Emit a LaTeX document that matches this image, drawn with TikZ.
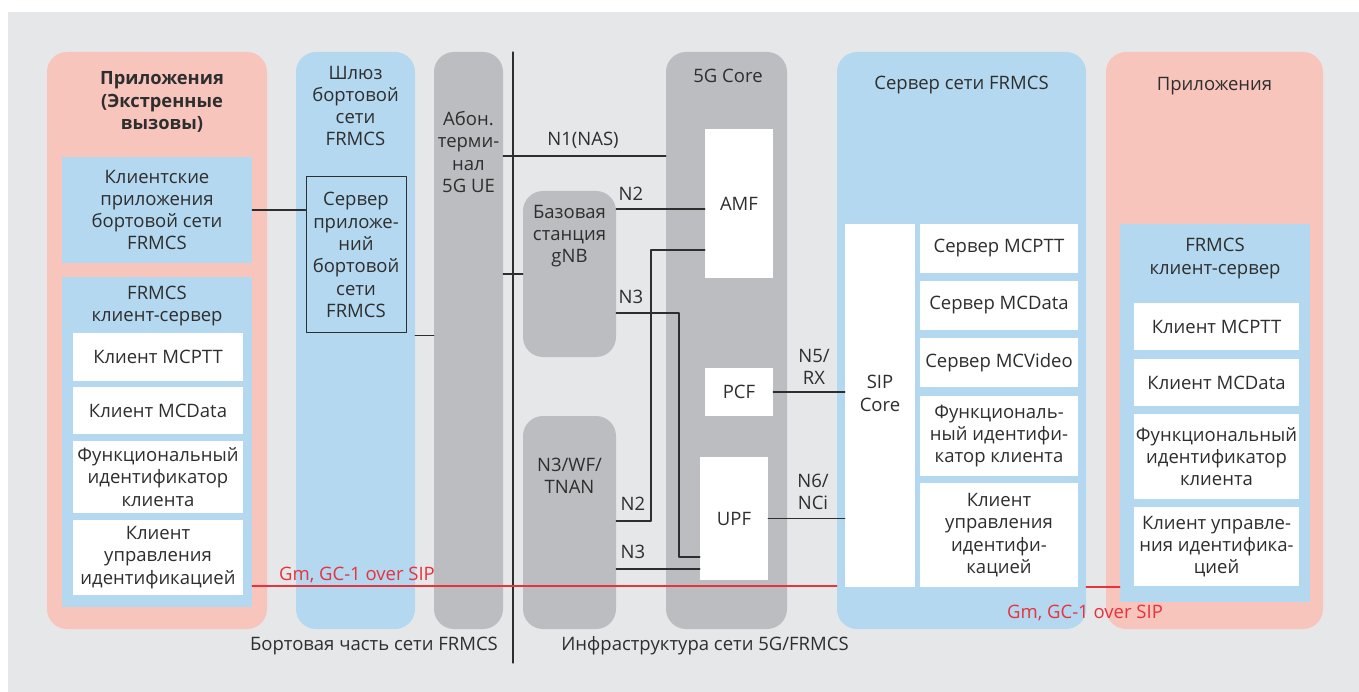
\documentclass[tikz,border=0pt]{standalone}
\usepackage{fontspec}
\setmainfont{Open Sans}
\definecolor{bg}{HTML}{E6E7E9}
\definecolor{rose}{HTML}{F8C5BD}
\definecolor{sky}{HTML}{B3D8F0}
\definecolor{steel}{HTML}{BCBDC0}
\definecolor{ink}{HTML}{2E2E2E}
\definecolor{sipred}{HTML}{E8323C}
\begin{document}
\begin{tikzpicture}[x=1pt, y=-1pt, line cap=round, line join=round,
	font=\fontsize{18.5}{22.3}\selectfont, text=ink,
	panel/.style={rounded corners=20pt, minimum height=577pt, inner sep=0pt},
	inbox/.style={fill=sky, inner sep=0pt, align=center},
	wbox/.style={fill=white, inner sep=0pt, align=center},
	lbl/.style={inner sep=0pt, align=center},
	link/.style={draw=ink, line width=1.2pt},
	sipline/.style={draw=sipred, line width=1.3pt},
	redlbl/.style={lbl, text=sipred}]
	\useasboundingbox (0,0) rectangle (1359,692);
	\fill[bg] (8,12) rectangle (1359,692);
	% big columns
	\node[panel, fill=rose, minimum width=220pt] (appL) at (157,340.5) {};
	\node[panel, fill=sky, minimum width=119pt] (gw) at (355.5,340.5) {};
	\node[panel, fill=steel, minimum width=69pt] (ue) at (468.5,340.5) {};
	\node[panel, fill=steel, minimum width=121pt] (core) at (726.5,340.5) {};
	\node[panel, fill=sky, minimum width=249pt] (srv) at (961.5,340.5) {};
	\node[panel, fill=rose, minimum width=217pt] (appR) at (1214.5,340.5) {};
	\node[panel, fill=steel, minimum width=93pt, minimum height=166pt] (gnb) at (569.5,274) {};
	\node[panel, fill=steel, minimum width=93pt, minimum height=213pt] (tnan) at (569.5,522.5) {};
	% column titles
	\node[lbl, font=\fontsize{18.3}{22.3}\bfseries] (appLt) at (162,102) {Приложения\\(Экстренные\\вызовы)};
	\node[lbl] (gwt) at (355.5,106) {Шлюз\\бортовой\\сети\\FRMCS};
	\node[lbl] (uet) at (468.5,152) {Абон.\\терми-\\нал\\5G UE};
	\node[lbl] (coret) at (728,76) {5G Core};
	\node[lbl] (srvt) at (961.5,85) {Сервер сети FRMCS};
	\node[lbl] (appRt) at (1214.5,86) {Приложения};
	\node[lbl] (gnbt) at (569.5,236) {Базовая\\станция\\gNB};
	\node[lbl] (tnant) at (569.5,476) {N3/WF/\\TNAN};
	% on-board side
	\node[inbox, minimum width=190pt, minimum height=106pt] (clapp) at (157,210)
		{Клиентские\\приложения\\бортовой сети\\FRMCS};
	\node[inbox, minimum width=190pt, minimum height=330pt] (csL) at (157,442) {};
	\node[lbl] (csLt) at (157,306) {FRMCS\\клиент-сервер};
	\node[wbox, minimum width=170pt, minimum height=48pt] (clL1) at (158,357) {Клиент MCPTT};
	\node[wbox, minimum width=170pt, minimum height=47pt] (clL2) at (158,410.5) {Клиент MCData};
	\node[wbox, minimum width=170pt, minimum height=72pt] (clL3) at (158,477)
		{Функциональный\\идентификатор\\клиента};
	\node[wbox, minimum width=170pt, minimum height=75pt] (clL4) at (158,557.5)
		{Клиент\\управления\\идентификацией};
	\node[draw=ink, line width=1pt, inner sep=0pt, align=center, minimum width=100pt, minimum height=156pt] (srvapp) at (356,255)
		{Сервер\\приложе-\\ний\\бортовой\\сети\\FRMCS};
	% 5G core functions
	\node[wbox, minimum width=68pt, minimum height=149pt] (amf) at (739,203.5) {AMF};
	\node[wbox, minimum width=68pt, minimum height=48pt] (pcf) at (739,392) {PCF};
	\node[wbox, minimum width=68pt, minimum height=123pt] (upf) at (734,518.5) {UPF};
	% FRMCS server
	\node[wbox, minimum width=70pt, minimum height=363pt] (sip) at (880,405.5) {};
	\node[lbl] (sipt) at (880,393.5) {SIP\\Core};
	\node[wbox, minimum width=158pt, minimum height=49pt] (sv1) at (999,248.5) {Сервер MCPTT};
	\node[wbox, minimum width=158pt, minimum height=49pt] (sv2) at (999,305.5) {Сервер MCData};
	\node[wbox, minimum width=158pt, minimum height=49pt] (sv3) at (999,362.5) {Сервер MCVideo};
	\node[wbox, minimum width=158pt, minimum height=80pt] (sv4) at (999,436)
		{Функциональ-\\ный идентифи-\\катор клиента};
	\node[wbox, minimum width=158pt, minimum height=104pt] (sv5) at (999,535)
		{Клиент\\управления\\идентифи-\\кацией};
	% ground applications
	\node[inbox, minimum width=190pt, minimum height=378pt] (csR) at (1215,413) {};
	\node[lbl] (csRt) at (1215,258.5) {FRMCS\\клиент-сервер};
	\node[wbox, minimum width=165pt, minimum height=47pt] (clR1) at (1216.5,326.5) {Клиент MCPTT};
	\node[wbox, minimum width=165pt, minimum height=47pt] (clR2) at (1216.5,382.5) {Клиент MCData};
	\node[wbox, minimum width=165pt, minimum height=85pt] (clR3) at (1216.5,456.5)
		{Функциональный\\идентификатор\\клиента};
	\node[wbox, minimum width=165pt, minimum height=79pt] (clR4) at (1216.5,546.5)
		{Клиент управле-\\ния идентифика-\\цией};
	% links
	\draw[link] (513,52) -- (513,663);
	\draw[link] (clapp.east) -- (clapp.east -| srvapp.west);
	\draw[link] ([yshift=5pt]gw.east) -- ([yshift=5pt]ue.west);
	\draw[link] (ue.east |- 0,156) -- (core.west |- 0,156);
	\draw[link] (ue.east |- gnb.west) -- (gnb.west);
	\draw[link] (gnb.east |- 0,209) -- (amf.west |- 0,209);
	\draw[link] (amf.west |- 0,250) -- (651,250) -- (651,521) -- (tnan.east |- 0,521);
	\draw[link] (gnb.east |- 0,313) -- (679,313) -- (679,557) -- (upf.west |- 0,557);
	\draw[link] (tnan.east |- 0,569) -- (upf.west |- 0,569);
	\draw[link] (pcf.east) -- (pcf.east -| sip.west);
	\draw[link] (upf.east) -- (upf.east -| sip.west);
	\draw[sipline] (csL.east |- 0,586) -- (srv.west |- 0,586);
	\draw[sipline] (srv.east |- 0,587) -- (csR.west |- 0,587);
	% interface names
	\node[lbl] (n1) at (583,140) {N1(NAS)};
	\node[lbl] (n2a) at (631,194) {N2};
	\node[lbl] (n3a) at (631,297) {N3};
	\node[lbl] (n2b) at (633,504) {N2};
	\node[lbl] (n3b) at (633,552) {N3};
	\node[lbl] (n5) at (814,367) {N5/\\RX};
	\node[lbl] (n6) at (813,492) {N6/\\NCi};
	\node[redlbl] (gmL) at (357,575) {Gm, GC-1 over SIP};
	\node[redlbl] (gmR) at (1085,613) {Gm, GC-1 over SIP};
	% bottom captions
	\node[lbl] (onb) at (374,646) {Бортовая часть сети FRMCS};
	\node[lbl] (infra) at (705,646) {Инфраструктура сети 5G/FRMCS};
\end{tikzpicture}
\end{document}
